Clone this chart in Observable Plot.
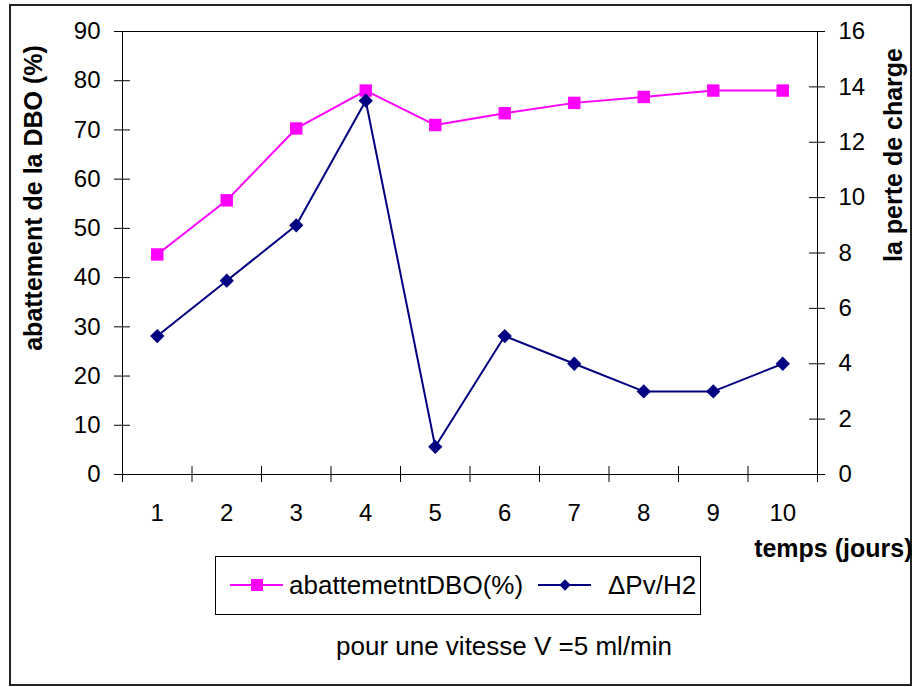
<!DOCTYPE html>
<html>
<head>
<meta charset="utf-8">
<script src="https://cdn.jsdelivr.net/npm/d3@7"></script>
<script src="https://cdn.jsdelivr.net/npm/@observablehq/plot@0.6"></script>
<style>
  body { margin: 0; background: #fff; font-family: "Liberation Sans", Arial, sans-serif; }
  #wrap { position: relative; width: 915px; height: 687px; overflow: hidden; }
  #border { position: absolute; left: 9px; top: 4px; width: 903px; height: 682px; box-sizing: border-box; border: 2px solid #222; }
  #chart { position: absolute; left: 0; top: 0; }
  #legend { position: absolute; left: 215px; top: 556px; width: 486px; height: 59px; box-sizing: border-box; border: 1px solid #000; }
  #caption { position: absolute; left: 0; top: 631px; width: 1008px; text-align: center; font-size: 26px; color: #000; line-height: 30px; }
</style>
</head>
<body>
<div id="wrap">
  <div id="border"></div>
  <div id="chart"></div>
  <div id="legend"></div>
  <div id="caption"></div>
</div>
<script>
// Days of the test
const days = [1, 2, 3, 4, 5, 6, 7, 8, 9, 10];
// BOD removal (%), left axis
const dbo = [44.7, 55.7, 70.3, 78.0, 71.0, 73.4, 75.5, 76.7, 78.0, 78.0];
// Head loss ΔPv/H2, right axis
const perte = [5, 7, 9, 13.5, 1, 5, 4, 3, 3, 4];

const leftTicks = [0, 10, 20, 30, 40, 50, 60, 70, 80, 90];
const rightTicks = [0, 2, 4, 6, 8, 10, 12, 14, 16];
const dayBounds = [0.5, 1.5, 2.5, 3.5, 4.5, 5.5, 6.5, 7.5, 8.5, 9.5, 10.5];

const seriesNames = ["abattemetntDBO(%)", "\u0394Pv/H2"];
const seriesColors = ["#ff00ff", "#000080"];
const yTitleLeft = "abattement de la DBO (%)";
const yTitleRight = "la perte de charge";
const xTitle = "temps (jours)";
const caption = "pour une vitesse V =5 ml/min";

// right axis values are drawn on the left scale
const k = 90 / 16;

const rows = days.map((d, i) => ({day: d, dbo: dbo[i], perte: perte[i]}));

const W = 915, H = 560;
const mL = 122, mR = 98, mT = 31, mB = 86;
const fw = W - mL - mR, fh = H - mT - mB;
const tick = 8;

const chart = Plot.plot({
  width: W,
  height: H,
  marginLeft: mL,
  marginRight: mR,
  marginTop: mT,
  marginBottom: mB,
  style: {fontFamily: "'Liberation Sans', Arial, sans-serif", background: "transparent", color: "#000", overflow: "visible"},
  x: {type: "linear", domain: [0.5, 10.5]},
  y: {type: "linear", domain: [0, 90]},
  marks: [
    Plot.frame({stroke: "#000", strokeWidth: 1}),
    // crossing tick marks
    Plot.tickY(leftTicks, {y: d => d, insetLeft: -tick, insetRight: fw - tick, stroke: "#000"}),
    Plot.tickY(rightTicks, {y: d => d * k, insetLeft: fw - tick, insetRight: -tick, stroke: "#000"}),
    Plot.tickX(dayBounds, {x: d => d, insetTop: fh - tick, insetBottom: -tick, stroke: "#000"}),
    // tick labels
    Plot.axisY(leftTicks, {anchor: "left", tickSize: 0, tickPadding: 22, fontSize: 24, label: null}),
    Plot.axisY(rightTicks.map(v => v * k), {anchor: "right", tickSize: 0, tickPadding: 21, fontSize: 24, label: null,
      tickFormat: d => String(Math.round(d / k))}),
    Plot.axisX(days, {anchor: "bottom", tickSize: 0, tickPadding: 29, fontSize: 24, label: null}),
    // axis titles
    Plot.text([yTitleLeft], {text: d => d, frameAnchor: "left", textAnchor: "middle", rotate: -90, dx: -89, dy: -55,
      fontSize: 25, fontWeight: "bold", fill: "#000"}),
    Plot.text([yTitleRight], {text: d => d, frameAnchor: "right", textAnchor: "middle", rotate: -90, dx: 76, dy: -98,
      fontSize: 25, fontWeight: "bold", fill: "#000"}),
    Plot.text([xTitle], {text: d => d, frameAnchor: "bottom-right", textAnchor: "end", dx: 95, dy: 82,
      fontSize: 25, fontWeight: "bold", fill: "#000"}),
    // BOD removal series
    Plot.line(rows, {x: "day", y: "dbo", stroke: seriesColors[0], strokeWidth: 2}),
    Plot.dot(rows, {x: "day", y: "dbo", symbol: "square", r: 7, fill: seriesColors[0], stroke: "none"}),
    // head loss series
    Plot.line(rows, {x: "day", y: d => d.perte * k, stroke: seriesColors[1], strokeWidth: 2}),
    Plot.dot(rows, {x: "day", y: d => d.perte * k, symbol: "square", r: 5.7, rotate: 45, fill: seriesColors[1], stroke: "none"})
  ]
});
document.getElementById("chart").appendChild(chart);

// legend
const lg = d3.select("#legend").append("svg").attr("width", 484).attr("height", 57)
  .style("font-family", "'Liberation Sans', Arial, sans-serif");
const items = [
  {name: seriesNames[0], color: seriesColors[0], x0: 14, shape: "square", tx: 73},
  {name: seriesNames[1], color: seriesColors[1], x0: 322, shape: "diamond", tx: 392}
];
items.forEach(it => {
  const g = lg.append("g");
  g.append("line").attr("x1", it.x0).attr("x2", it.x0 + 53).attr("y1", 28).attr("y2", 28)
    .attr("stroke", it.color).attr("stroke-width", 2);
  const cx = it.x0 + 27;
  if (it.shape === "square") {
    g.append("rect").attr("x", cx - 6).attr("y", 22).attr("width", 12).attr("height", 12).attr("fill", it.color);
  } else {
    g.append("rect").attr("x", cx - 4).attr("y", 24).attr("width", 8).attr("height", 8).attr("fill", it.color)
      .attr("transform", `rotate(45 ${cx} 28)`);
  }
  g.append("text").attr("x", it.tx).attr("y", 28).attr("dominant-baseline", "central")
    .attr("font-size", 26).attr("fill", "#000").text(it.name);
});

document.getElementById("caption").textContent = caption;
</script>
</body>
</html>
